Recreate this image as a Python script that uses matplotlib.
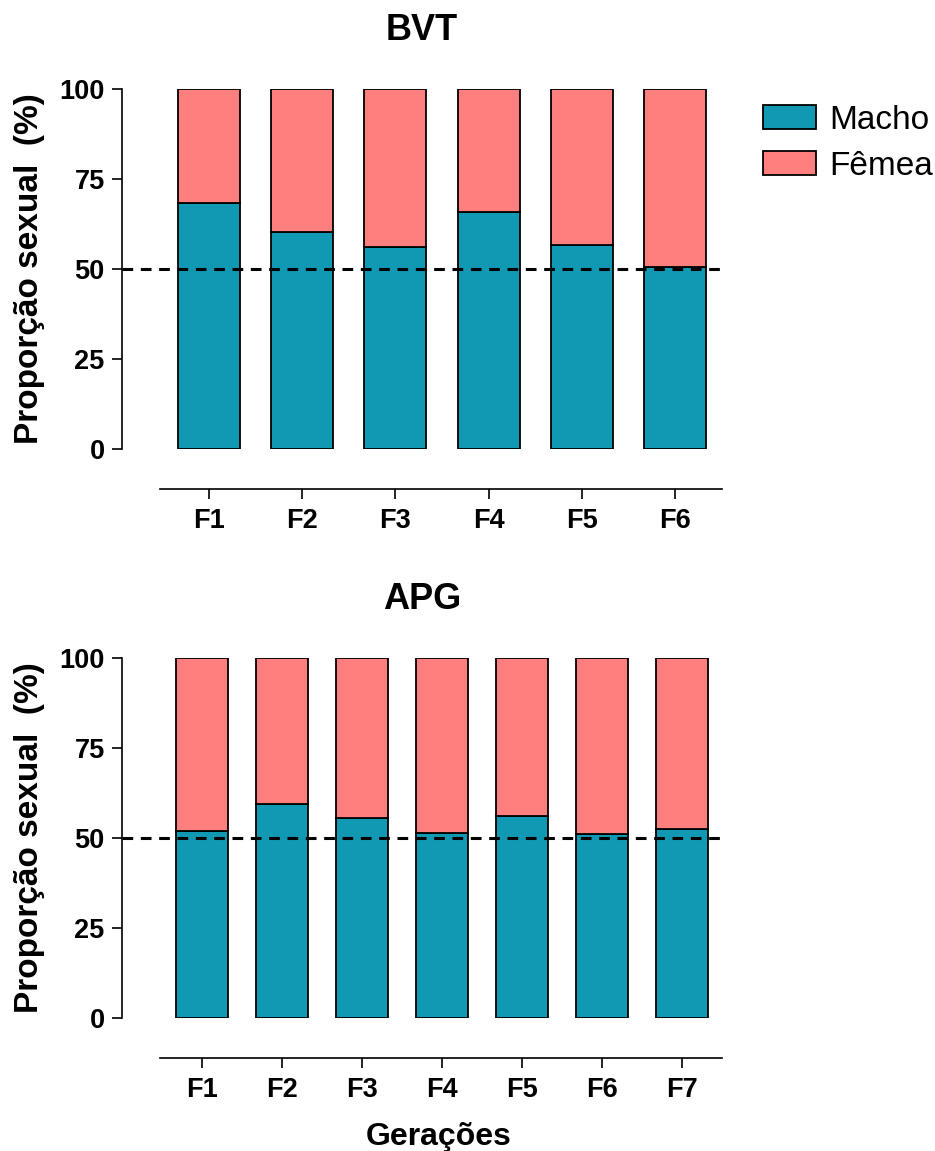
import numpy as np
import matplotlib
matplotlib.use("Agg")
from matplotlib import pyplot as plt
from matplotlib.patches import Patch

plt.rcParams['font.family'] = ['Liberation Sans', 'DejaVu Sans']

# dados
bvt_ger = ['F1', 'F2', 'F3', 'F4', 'F5', 'F6']
bvt_macho = [68.2, 60.4, 56.0, 65.9, 56.7, 50.6]
apg_ger = ['F1', 'F2', 'F3', 'F4', 'F5', 'F6', 'F7']
apg_macho = [52.0, 59.4, 55.5, 51.5, 56.1, 51.1, 52.6]

c_macho = '#1199b4'
c_femea = '#ff7f7f'

fig = plt.figure(figsize=(9.35, 11.51), dpi=100)
ax1 = fig.add_axes([0.1305, 0.6099, 0.6417, 0.3128])
ax2 = fig.add_axes([0.1305, 0.1156, 0.6417, 0.3128])


def painel(ax, ger, macho, largura, xlim, xini, titulo, xlabel=None):
    x = np.arange(len(ger))
    macho = np.array(macho)
    femea = 100 - macho
    ax.bar(x, macho, width=largura, color=c_macho, edgecolor='black', linewidth=1.3, zorder=2)
    ax.bar(x, femea, bottom=macho, width=largura, color=c_femea, edgecolor='black', linewidth=1.3, zorder=2)
    ax.axhline(50, color='black', linestyle=(0, (3.5, 2.5)), linewidth=2.2, zorder=3)
    ax.set_xlim(*xlim)
    ax.set_ylim(0, 100)
    for s in ['top', 'right']:
        ax.spines[s].set_visible(False)
    ax.spines['left'].set_linewidth(1.2)
    ax.spines['bottom'].set_linewidth(1.2)
    ax.spines['bottom'].set_position(('outward', 28.8))
    ax.spines['bottom'].set_bounds(xini, xlim[1])
    ax.spines['left'].set_bounds(0, 100)
    ax.set_yticks([0, 25, 50, 75, 100])
    ax.set_xticks(x)
    ax.set_xticklabels(ger)
    ax.tick_params(axis='both', length=7.5, width=1.2, labelsize=19.5)
    ax.tick_params(axis='x', pad=6)
    ax.tick_params(axis='y', pad=5)
    for lab in ax.get_xticklabels() + ax.get_yticklabels():
        lab.set_fontweight('bold')
    ax.set_ylabel('Proporção sexual  (%)', fontsize=24, fontweight='bold')
    ax.yaxis.set_label_coords(-0.128, 0.5)
    ax.set_title(titulo, fontsize=26, fontweight='bold', pad=35.5)
    if xlabel:
        ax.set_xlabel(xlabel, fontsize=23, fontweight='bold')
        ax.xaxis.set_label_coords(0.528, -0.29)


painel(ax1, bvt_ger, bvt_macho, 0.665, (-0.933, 5.504), -0.526, 'BVT')
painel(ax2, apg_ger, apg_macho, 0.65, (-1.0, 6.5), -0.525, 'APG', 'Gerações')

handles = [Patch(facecolor=c_macho, edgecolor='black', linewidth=1.3, label='Macho'),
           Patch(facecolor=c_femea, edgecolor='black', linewidth=1.3, label='Fêmea')]
fig.legend(handles=handles, loc='upper left', bbox_to_anchor=(0.816, 0.909),
           frameon=False, fontsize=24, handlelength=1.58, handleheight=0.7,
           handletextpad=0.42, labelspacing=0.45, borderaxespad=0, borderpad=0)

fig.savefig('out.png', dpi=100)
